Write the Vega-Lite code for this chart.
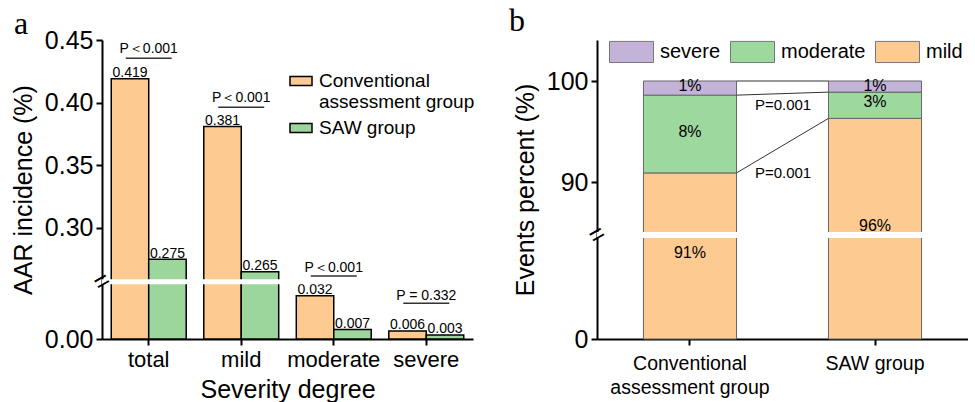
{
  "$schema": "https://vega.github.io/schema/vega-lite/v6.json",
  "padding": {"left": 11, "top": 5, "right": 0, "bottom": 0},
  "background": "white",
  "spacing": 124,
  "bounds": "flush",
  "resolve": {"scale": {"fill": "independent"}, "legend": {"fill": "independent"}},
  "config": {
    "view": {"stroke": null},
    "font": "Liberation Sans",
    "axis": {"domainColor": "black", "domainWidth": 2, "tickColor": "black", "tickWidth": 2, "tickSize": 6, "labelColor": "black", "titleColor": "black", "labelFont": "Liberation Sans", "titleFont": "Liberation Sans", "titleFontWeight": "normal", "grid": false},
    "legend": {"labelColor": "black", "labelFont": "Liberation Sans", "padding": 0},
    "text": {"color": "black", "font": "Liberation Sans"}
  },
  "datasets": {
    "aar": [
      {"severity": "total", "group": "Conventional assessment group", "value": 0.419},
      {"severity": "total", "group": "SAW group", "value": 0.275},
      {"severity": "mild", "group": "Conventional assessment group", "value": 0.381},
      {"severity": "mild", "group": "SAW group", "value": 0.265},
      {"severity": "moderate", "group": "Conventional assessment group", "value": 0.032},
      {"severity": "moderate", "group": "SAW group", "value": 0.007},
      {"severity": "severe", "group": "Conventional assessment group", "value": 0.006},
      {"severity": "severe", "group": "SAW group", "value": 0.003}
    ],
    "pvals_a": [
      {"severity": "total", "p": "P＜0.001", "text_y": 0.4396, "line_y": 0.4354},
      {"severity": "mild", "p": "P＜0.001", "text_y": 0.4008, "line_y": 0.3963},
      {"severity": "moderate", "p": "P＜0.001", "text_y": 0.2651, "line_y": 0.2617},
      {"severity": "severe", "p": "P = 0.332", "text_y": 0.0289, "line_y": 0.0264}
    ],
    "events": [
      {"group": "Conventional assessment group", "level": "mild", "rank": 1, "value": 90.9},
      {"group": "Conventional assessment group", "level": "moderate", "rank": 2, "value": 7.7},
      {"group": "Conventional assessment group", "level": "severe", "rank": 3, "value": 1.4},
      {"group": "SAW group", "level": "mild", "rank": 1, "value": 96.3},
      {"group": "SAW group", "level": "moderate", "rank": 2, "value": 2.6},
      {"group": "SAW group", "level": "severe", "rank": 3, "value": 1.1}
    ],
    "labels_b": [
      {"group": "Conventional assessment group", "label": "1%", "at": 99.55},
      {"group": "Conventional assessment group", "label": "8%", "at": 94.95},
      {"group": "Conventional assessment group", "label": "91%", "at": 71.9},
      {"group": "SAW group", "label": "1%", "at": 99.55},
      {"group": "SAW group", "label": "3%", "at": 97.9},
      {"group": "SAW group", "label": "96%", "at": 85.69}
    ],
    "links_b": [
      {"from": "Conventional assessment group", "to": "SAW group", "y1": 100, "y2": 100},
      {"from": "Conventional assessment group", "to": "SAW group", "y1": 98.6, "y2": 98.9},
      {"from": "Conventional assessment group", "to": "SAW group", "y1": 90.9, "y2": 96.3}
    ],
    "pvals_b": [
      {"from": "Conventional assessment group", "p": "P=0.001", "at": 97.6},
      {"from": "Conventional assessment group", "p": "P=0.001", "at": 90.94}
    ],
    "break_a": [{"lo": 0.0405, "hi": 0.259, "mid": 0.15}],
    "break_b": [{"lo": 84, "hi": 85.05, "mid": 84.5}]
  },
  "hconcat": [
    {
      "width": 371,
      "height": 299,
      "title": {"text": "a", "anchor": "start", "frame": "group", "font": "Liberation Serif", "fontSize": 32, "fontWeight": "normal", "baseline": "alphabetic", "offset": 0, "dy": 38, "dx": -88, "color": "black"},
      "resolve": {"scale": {"x": "independent"}},
      "layer": [
        {
          "layer": [
            {
              "data": {"name": "aar"},
              "mark": {"type": "bar", "stroke": "black", "strokeWidth": 1.5},
              "encoding": {
                "x": {"field": "severity", "type": "nominal", "scale": {"domain": ["total", "mild", "moderate", "severe"], "paddingInner": 0.19, "paddingOuter": 0.1}, "axis": {"title": "Severity degree", "labelAngle": 0, "labelFontSize": 22, "titleFontSize": 25, "labelPadding": 4, "titlePadding": 7}},
                "xOffset": {"field": "group", "type": "nominal", "scale": {"domain": ["Conventional assessment group", "SAW group"], "paddingInner": 0, "paddingOuter": 0}},
                "y": {"field": "value", "type": "quantitative", "scale": {"domain": [0, 0.0405, 0.259, 0.45], "range": [299, 244.3, 239.3, 0], "zero": false, "nice": false}, "axis": {"title": "AAR incidence (%)", "values": [0, 0.3, 0.35, 0.4, 0.45], "format": ".2f", "labelFontSize": 25, "titleFontSize": 25, "labelPadding": 3, "titlePadding": 8}},
                "fill": {"field": "group", "type": "nominal", "scale": {"domain": ["Conventional assessment group", "SAW group"], "range": ["#FDCB92", "#9DD69D"]}, "legend": {"orient": "none", "direction": "vertical", "legendX": 187, "legendY": 29, "title": null, "symbolType": "M-1,-0.4H1V0.4H-1Z", "symbolSize": 484, "symbolStrokeColor": "black", "symbolStrokeWidth": 1.5, "labelFontSize": 19, "labelOffset": 6, "labelLimit": 300, "rowPadding": 4, "labelExpr": "datum.value == 'Conventional assessment group' ? ['Conventional', 'assessment group'] : datum.label"}}
              }
            },
            {
              "data": {"name": "aar"},
              "mark": {"type": "text", "baseline": "alphabetic", "dy": -1.5, "fontSize": 14},
              "encoding": {
                "x": {"field": "severity", "type": "nominal"},
                "xOffset": {"field": "group", "type": "nominal"},
                "y": {"field": "value", "type": "quantitative"},
                "text": {"field": "value", "type": "quantitative", "format": ".3f"}
              }
            },
            {
              "data": {"name": "pvals_a"},
              "mark": {"type": "tick", "orient": "horizontal", "size": 46, "thickness": 1.5, "color": "#333333", "opacity": 1},
              "encoding": {
                "x": {"field": "severity", "type": "nominal"},
                "y": {"field": "line_y", "type": "quantitative"}
              }
            },
            {
              "data": {"name": "pvals_a"},
              "mark": {"type": "text", "baseline": "alphabetic", "fontSize": 14},
              "encoding": {
                "x": {"field": "severity", "type": "nominal"},
                "y": {"field": "text_y", "type": "quantitative"},
                "text": {"field": "p", "type": "nominal"}
              }
            }
          ]
        },
        {
          "data": {"name": "break_a"},
          "layer": [
            {
              "mark": {"type": "rect", "fill": "white"},
              "encoding": {
                "y": {"field": "lo", "type": "quantitative"},
                "y2": {"field": "hi"}
              }
            },
            {
              "mark": {"type": "text", "text": "=", "angle": -30, "fontSize": 26, "baseline": "middle", "align": "center"},
              "encoding": {
                "x": {"datum": 0, "type": "quantitative", "scale": {"domain": [0, 1]}, "axis": null},
                "y": {"field": "mid", "type": "quantitative"}
              }
            }
          ]
        }
      ]
    },
    {
      "width": 371,
      "height": 299,
      "title": {"text": "b", "anchor": "start", "frame": "group", "font": "Liberation Serif", "fontSize": 32, "fontWeight": "normal", "baseline": "alphabetic", "offset": 0, "dy": 34, "dx": -88, "color": "black"},
      "resolve": {"scale": {"x": "independent"}},
      "layer": [
        {
          "layer": [
            {
              "data": {"name": "events"},
              "mark": {"type": "bar", "stroke": "#666666", "strokeWidth": 1},
              "encoding": {
                "x": {"field": "group", "type": "nominal", "scale": {"domain": ["Conventional assessment group", "SAW group"], "paddingInner": 0.497, "paddingOuter": 0.251}, "axis": {"title": null, "labelAngle": 0, "labelFontSize": 19.5, "labelLineHeight": 24, "labelPadding": 9, "labelLimit": 300, "labelExpr": "datum.value == 'Conventional assessment group' ? ['Conventional', 'assessment group'] : datum.label"}},
                "y": {"field": "value", "type": "quantitative", "stack": "zero", "scale": {"domain": [0, 84, 85.05, 104.06], "range": [299, 198, 192, 0], "zero": false, "nice": false}, "axis": {"title": "Events percent (%)", "values": [0, 90, 100], "labelFontSize": 25, "titleFontSize": 25, "labelPadding": 3, "titlePadding": 8}},
                "order": {"field": "rank", "type": "quantitative", "sort": "ascending"},
                "fill": {"field": "level", "type": "nominal", "scale": {"domain": ["severe", "moderate", "mild"], "range": ["#C4B3D8", "#9DD89E", "#FDCB92"]}, "legend": {"orient": "none", "direction": "horizontal", "legendX": 12, "legendY": -11, "title": null, "symbolType": "M-1,-0.48H1V0.48H-1Z", "symbolSize": 1936, "symbolStrokeColor": "#777777", "symbolStrokeWidth": 1, "labelFontSize": 20, "labelOffset": 6, "columnPadding": 7}}
              }
            },
            {
              "data": {"name": "links_b"},
              "mark": {"type": "rule", "color": "#333333", "strokeWidth": 1},
              "encoding": {
                "x": {"field": "from", "type": "nominal", "bandPosition": 1},
                "x2": {"field": "to", "bandPosition": 0},
                "y": {"field": "y1", "type": "quantitative"},
                "y2": {"field": "y2"}
              }
            },
            {
              "data": {"name": "labels_b"},
              "mark": {"type": "text", "baseline": "middle", "fontSize": 16},
              "encoding": {
                "x": {"field": "group", "type": "nominal"},
                "y": {"field": "at", "type": "quantitative"},
                "text": {"field": "label", "type": "nominal"}
              }
            },
            {
              "data": {"name": "pvals_b"},
              "mark": {"type": "text", "baseline": "middle", "fontSize": 15},
              "encoding": {
                "x": {"field": "from", "type": "nominal", "bandPosition": 1.5},
                "y": {"field": "at", "type": "quantitative"},
                "text": {"field": "p", "type": "nominal"}
              }
            }
          ]
        },
        {
          "data": {"name": "break_b"},
          "layer": [
            {
              "mark": {"type": "rect", "fill": "white"},
              "encoding": {
                "y": {"field": "lo", "type": "quantitative"},
                "y2": {"field": "hi"}
              }
            },
            {
              "mark": {"type": "text", "text": "=", "angle": -30, "fontSize": 26, "baseline": "middle", "align": "center"},
              "encoding": {
                "x": {"datum": 0, "type": "quantitative", "scale": {"domain": [0, 1]}, "axis": null},
                "y": {"field": "mid", "type": "quantitative"}
              }
            }
          ]
        }
      ]
    }
  ]
}
